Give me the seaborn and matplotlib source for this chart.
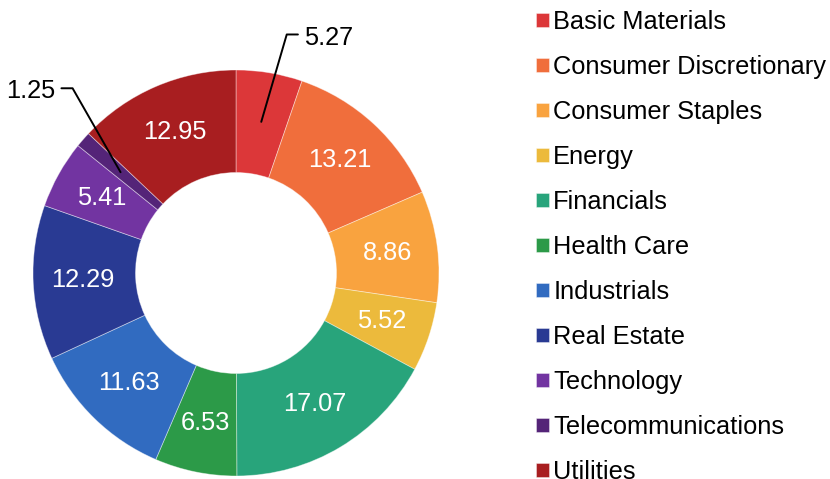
import matplotlib
matplotlib.use("Agg")
import matplotlib.pyplot as plt
import seaborn as sns
import numpy as np

sectors = ["Basic Materials", "Consumer Discretionary", "Consumer Staples", "Energy",
           "Financials", "Health Care", "Industrials", "Real Estate", "Technology",
           "Telecommunications", "Utilities"]
weights = [5.27, 13.21, 8.86, 5.52, 17.07, 6.53, 11.63, 12.29, 5.41, 1.25, 12.95]
hex_colors = ["#dc3739", "#f06e3c", "#f9a33f", "#ecba3c", "#28a47b", "#2c9a48",
              "#316bc0", "#293a93", "#7234a1", "#542478", "#a81e20"]
outside_labels = ["Basic Materials", "Telecommunications"]

sns.set_style("white")
plt.rcParams["font.family"] = ["Liberation Sans", "DejaVu Sans"]
plt.rcParams["text.color"] = "black"

palette = sns.color_palette(hex_colors)

W, H = 830, 479
fig = plt.figure(figsize=(W / 100, H / 100), dpi=100)
cx, cy, R = 236, 273, 203
ax = fig.add_axes([(cx - R) / W, (H - cy - R) / H, 2 * R / W, 2 * R / H])

wedges, _ = ax.pie(weights, colors=palette, startangle=90, counterclock=False,
                   radius=1.0,
                   wedgeprops=dict(width=0.505, edgecolor=(1, 1, 1, 0.45), linewidth=0.6))
ax.set_xlim(-1, 1)
ax.set_ylim(-1, 1)
ax.set_aspect("equal")
ax.axis("off")

FS = 18.3
total = sum(weights)
cum = 0.0
rl = 0.755
for name, v, w in zip(sectors, weights, wedges):
    mid = 90 - (cum + v / 2) / total * 360
    cum += v
    x, y = rl * np.cos(np.radians(mid)), rl * np.sin(np.radians(mid))
    if name in outside_labels:
        if x > 0:
            knee = (0.25, 1.175)
            end = (0.305, 1.175)
            ax.annotate(f"{v:.2f}", xy=(x, y), xytext=(end[0] + 0.03, end[1] - 0.015),
                        ha="left", va="center", fontsize=FS, color="black",
                        annotation_clip=False)
        else:
            knee = (-0.805, 0.91)
            end = (-0.86, 0.91)
            ax.annotate(f"{v:.2f}", xy=(x, y), xytext=(end[0] - 0.03, end[1] - 0.012),
                        ha="right", va="center", fontsize=FS, color="black",
                        annotation_clip=False)
        ax.plot([x, knee[0], end[0]], [y, knee[1], end[1]], color="black",
                lw=1.4, clip_on=False)
    else:
        ax.text(x, y, f"{v:.2f}", ha="center", va="center", fontsize=FS, color="white")

leg = fig.legend(wedges, sectors, loc="upper left", bbox_to_anchor=(536 / W, 1 - 10 / H),
                 frameon=False, fontsize=FS, handlelength=0.52, handleheight=0.52,
                 handletextpad=0.16, labelspacing=0.826, borderaxespad=0, borderpad=0,
                 labelcolor="black")

fig.savefig("out.png", dpi=100)
